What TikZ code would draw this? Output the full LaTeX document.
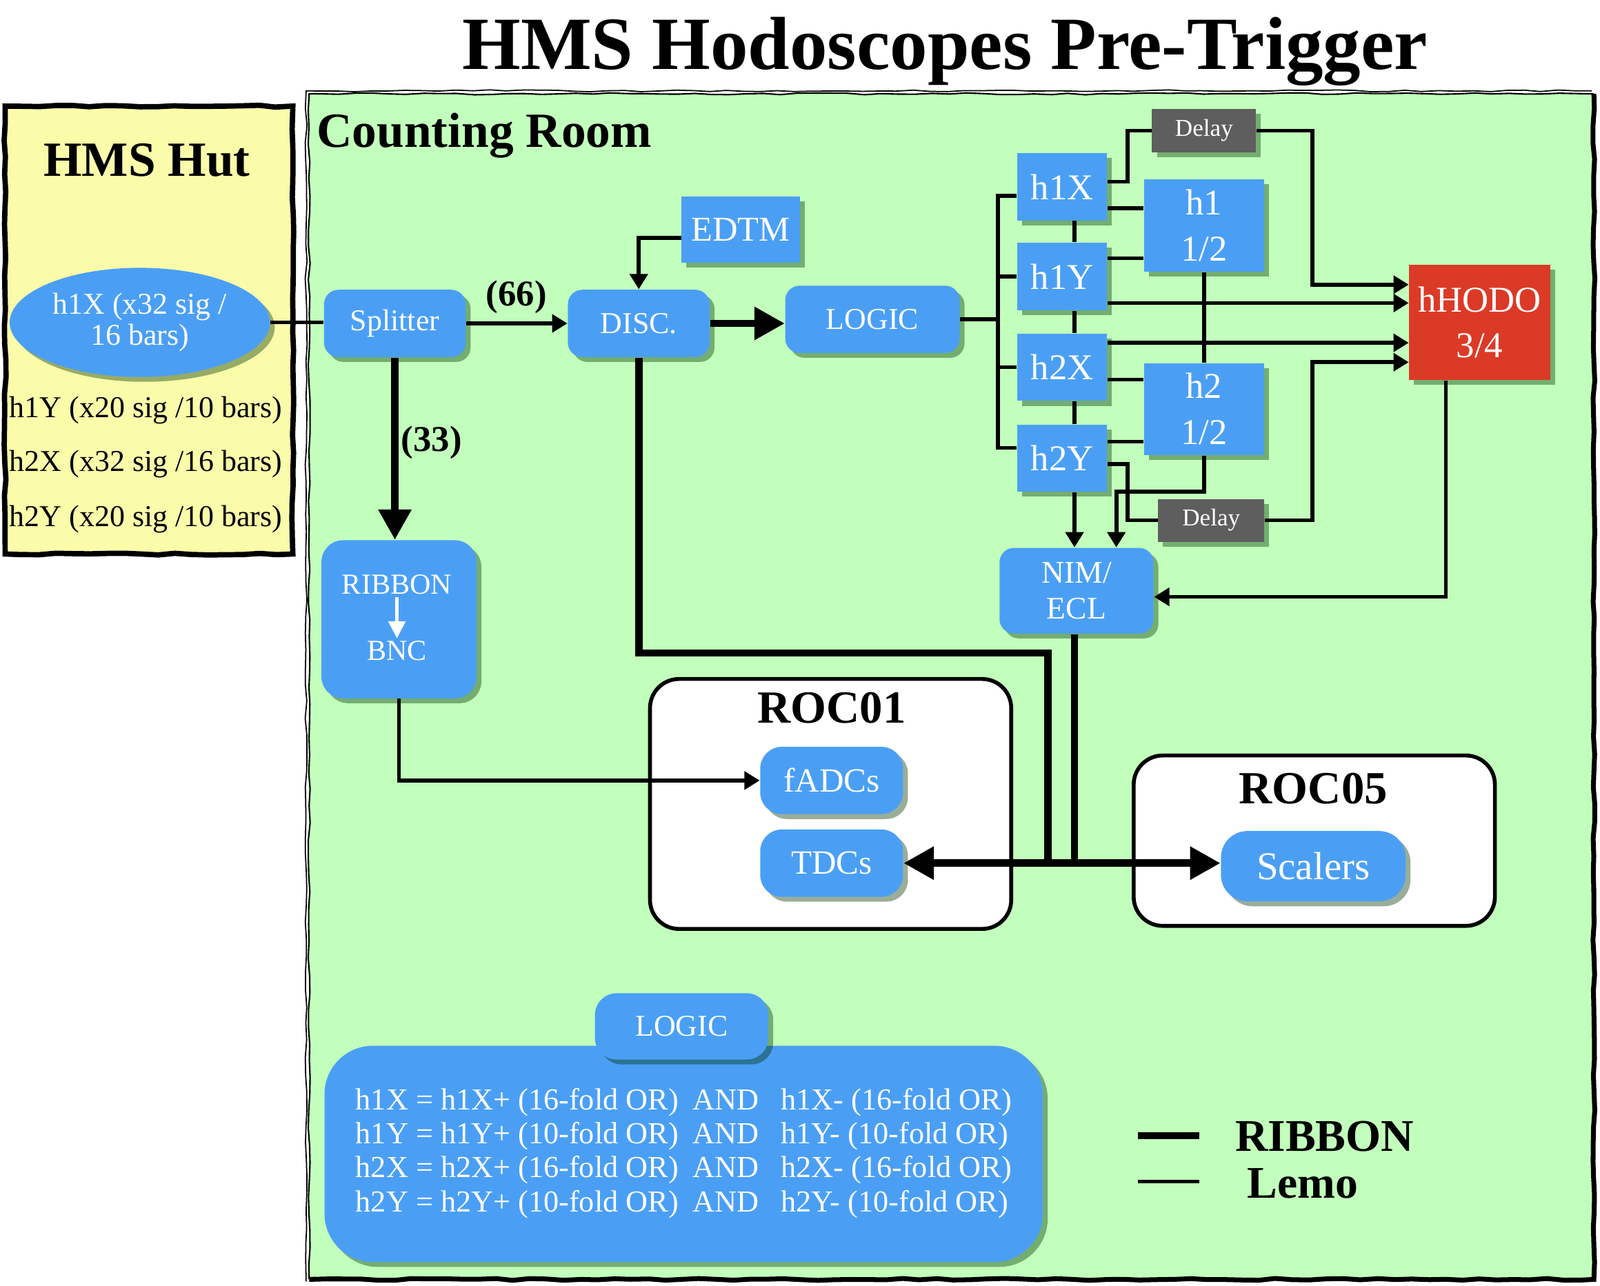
\documentclass[tikz,border=0pt]{standalone}
\usepackage{fontspec}
\setmainfont{Liberation Serif}
\usetikzlibrary{arrows.meta, shapes.geometric, shadows, decorations.pathmorphing}

\newcommand\pxu{0.148mm}
\definecolor{hutyellow}{RGB}{250,252,170}
\definecolor{roomgreen}{RGB}{194,255,188}
\definecolor{boxblue}{RGB}{74,159,245}
\definecolor{hodored}{RGB}{219,58,38}
\definecolor{delaygray}{RGB}{94,94,94}

\tikzset{
  sz/.style 2 args={minimum width=#1*\pxu, minimum height=#2*\pxu},
  blk/.style={fill=boxblue, text=white, align=center, inner sep=0pt,
    font=\fontsize{12.5}{14}\selectfont,
    drop shadow={opacity=0.4, fill=black!80!green, shadow xshift=2pt, shadow yshift=-2pt}},
  rbox/.style={blk, rounded corners=6pt},
  sbox/.style={blk},
  hbox/.style={sbox, font=\fontsize{15}{17}\selectfont},
  dly/.style={sbox, fill=delaygray, font=\fontsize{10}{12}\selectfont},
  lemo/.style={line width=1.6pt},
  ribbon/.style={line width=3pt},
  bigtip/.style={-{Triangle[length=12.5pt,width=13pt]}},
  roc/.style={draw=black, fill=white, line width=1.6pt, rounded corners=12pt},
  sketch/.style={decorate, decoration={random steps, segment length=7pt, amplitude=0.4pt}},
  hutline/.style={font=\fontsize{12.5}{14}\selectfont},
  lbl/.style={font=\bfseries\fontsize{15}{17}\selectfont},
}

\begin{document}
\begin{tikzpicture}[x=0.148mm, y=-0.148mm, >={Triangle[length=6.3pt,width=7.3pt]}]
		\useasboundingbox (0,0) rectangle (1568,1260);

		% HMS Hut und Counting Room
		\fill[hutyellow] (5,104) rectangle (287,543);
		\draw[line width=2.2pt, sketch] (5,104) rectangle (287,543);
		\fill[roomgreen] (303,92) rectangle (1562,1254);
		\draw[line width=0.6pt, sketch] (1562,92) -- (303,92) -- (303,1254);
		\draw[line width=0.5pt, sketch] (1560,89) -- (300,89) -- (300,1256);
		\draw[line width=2pt, sketch] (303,1254) -- (1562,1254) -- (1562,92);

		\node[font=\bfseries\fontsize{31}{36}\selectfont, anchor=base] (title) at (926,68) {HMS Hodoscopes Pre-Trigger};
		\node[font=\bfseries\fontsize{20.3}{24}\selectfont, anchor=base] (hut) at (144,173) {HMS Hut};
		\node[font=\bfseries\fontsize{20.3}{24}\selectfont, anchor=base west, inner sep=0pt] (room) at (310,144) {Counting Room};

		% Signale in der Huette
		\node[blk, ellipse, sz={255}{107}, font=\fontsize{12.5}{13}\selectfont] (src) at (137,316) {h1X (x32 sig /\\16 bars)};
		\node[hutline] (s1Y) at (143,402) {h1Y (x20 sig /10 bars)};
		\node[hutline] (s2X) at (143,455) {h2X (x32 sig /16 bars)};
		\node[hutline] (s2Y) at (143,509) {h2Y (x20 sig /10 bars)};

		% Module
		\node[rbox, sz={139}{66}] (split) at (387,317) {Splitter};
		\node[rbox, sz={139}{66}] (disc) at (626,317) {DISC.};
		\node[sbox, sz={116}{65}, font=\fontsize{14.4}{16}\selectfont] (edtm) at (726,225) {EDTM};
		\node[rbox, sz={171}{66}] (logic) at (855,313) {LOGIC};

		\node[hbox, sz={88}{66}] (h1X) at (1041,183) {h1X};
		\node[hbox, sz={88}{66}] (h1Y) at (1041,271) {h1Y};
		\node[hbox, sz={88}{66}] (h2X) at (1041,360) {h2X};
		\node[hbox, sz={88}{66}] (h2Y) at (1041,449) {h2Y};
		\node[hbox, sz={118}{91}, font=\fontsize{15}{19}\selectfont] (h1half) at (1180,221) {h1\\1/2};
		\node[hbox, sz={118}{90}, font=\fontsize{15}{19}\selectfont] (h2half) at (1180,401) {h2\\1/2};
		\node[dly, sz={102}{43}] (dly1) at (1180,128) {Delay};
		\node[dly, sz={104}{42}] (dly2) at (1187,510) {Delay};
		\node[hbox, fill=hodored, sz={138}{113}, font=\fontsize{15}{19}\selectfont] (hodo) at (1450,316) {hHODO\\3/4};
		\node[rbox, sz={151}{84}, font=\fontsize{13}{15}\selectfont] (nim) at (1055,579) {NIM/\\ECL};

		\node[rbox, sz={152}{155}, rounded corners=9pt] (rib) at (391,607) {};
		\node[text=white, inner sep=1pt, font=\fontsize{12}{14}\selectfont] (ribT) at (389,573) {RIBBON};
		\node[text=white, inner sep=1pt, font=\fontsize{12}{14}\selectfont] (ribB) at (389,638) {BNC};

		% ROCs
		\node[roc, sz={354}{245}] (roc01) at (814,788) {};
		\node[font=\bfseries\fontsize{19}{22}\selectfont] (roc01t) at (815,694) {ROC01};
		\node[rbox, sz={140}{66}, rounded corners=9pt, font=\fontsize{14}{16}\selectfont] (fadc) at (815,765) {fADCs};
		\node[rbox, sz={140}{66}, rounded corners=9pt, font=\fontsize{14}{16}\selectfont] (tdc) at (815,846) {TDCs};
		\node[roc, sz={354}{167}] (roc05) at (1288,824) {};
		\node[font=\bfseries\fontsize{19}{22}\selectfont] (roc05t) at (1287,773) {ROC05};
		\node[rbox, sz={181}{69}, rounded corners=11pt, font=\fontsize{16.2}{18}\selectfont] (scal) at (1287,849) {Scalers};

		% Logik-Tabelle
		\node[blk, rounded corners=20pt, sz={704}{212}, font=\fontsize{12.6}{14}\selectfont] (lgc) at (670,1131)
			{\begin{tabular}{@{}l@{\hspace{6pt}}l@{\hspace{9pt}}l@{}}
			h1X = h1X+ (16-fold OR) & AND & h1X- (16-fold OR)\\
			h1Y = h1Y+ (10-fold OR) & AND & h1Y- (10-fold OR)\\
			h2X = h2X+ (16-fold OR) & AND & h2X- (16-fold OR)\\
			h2Y = h2Y+ (10-fold OR) & AND & h2Y- (10-fold OR)
			\end{tabular}};
		\node[rbox, rounded corners=9pt, sz={170}{65}] (lgctab) at (668,1006) {LOGIC};

		% Verbindungen: Lemo
		\draw[lemo] (src.east) -- (src.east -| split.west);
		\draw[lemo,->] (split.east) -- (disc.west);
		\node[lbl] (n66) at (506,291) {(66)};
		\draw[lemo,->] (edtm.west |- 0,233) -| (disc.north);

		\coordinate (busT) at (978,192);
		\coordinate (busB) at (978,439);
		\draw[lemo] (h1X.west |- busT) -- (busT) -- (busB) -- (h2Y.west |- busB);
		\draw[lemo] (logic.east) -- (logic.east -| busT);
		\draw[lemo] (h1Y.west) -- (h1Y.west -| busT);
		\draw[lemo] (h2X.west) -- (h2X.west -| busT);

		\coordinate (chain) at (1053,0);
		\draw[lemo] (h1X.south -| chain) -- (h1Y.north -| chain);
		\draw[lemo] (h1Y.south -| chain) -- (h2X.north -| chain);
		\draw[lemo] (h2X.south -| chain) -- (h2Y.north -| chain);
		\draw[lemo,->] (h2Y.south -| chain) -- (nim.north -| chain);

		\draw[lemo] (h1X.east |- 0,204) -- (h1half.west |- 0,204);
		\draw[lemo] (h1Y.east |- 0,253) -- (h1half.west |- 0,253);
		\draw[lemo] (h2X.east |- 0,372) -- (h2half.west |- 0,372);
		\draw[lemo] (h2Y.east |- 0,433) -- (h2half.west |- 0,433);
		\draw[lemo] (h1half.south) -- (h2half.north);

		\draw[lemo] (h1X.east |- 0,178) -- (1105,178) |- (dly1.west);
		\draw[lemo,->] (dly1.east) -| (1286,279) -- (hodo.west |- 0,279);
		\draw[lemo,->] (h1Y.east |- 0,297) -- (hodo.west |- 0,297);
		\draw[lemo,->] (h2X.east |- 0,336) -- (hodo.west |- 0,336);
		\draw[lemo] (h2Y.east |- 0,455) -- (1105,455) |- (dly2.west);
		\draw[lemo,->] (dly2.east) -| (1286,355) -- (hodo.west |- 0,355);
		\draw[lemo,->] (h2half.south) -- (1180,482) -- (1094,482) -- (nim.north -| 1094,0);
		\draw[lemo,->] (hodo.south -| 1417,0) |- (nim.east |- 0,585);

		\draw[lemo,->] (rib.south) |- (fadc.west);
		\draw[line width=1.2pt, white, -{Triangle[length=7pt,width=7pt]}] (ribT.south) -- (ribB.north);

		% Verbindungen: Ribbon
		\draw[ribbon, bigtip] (disc.east) -- (disc.east -| logic.west);
		\draw[ribbon, bigtip] (split.south) -- (split.south |- rib.north);
		\node[lbl] (n33) at (423,434) {(33)};
		\coordinate (jd) at (1027,846);
		\coordinate (jn) at (1053,846);
		\draw[ribbon] (disc.south) |- (1027,640) -- (jd);
		\draw[ribbon] (nim.south -| jn) -- (jn);
		\draw[ribbon, {Triangle[length=12.5pt,width=13pt]}-{Triangle[length=12.5pt,width=13pt]}] (tdc.east) -- (tdc.east -| scal.west);

		% Legende
		\coordinate (legA) at (1115,1113);
		\coordinate (legB) at (1175,1113);
		\coordinate (legC) at (1115,1158);
		\coordinate (legD) at (1175,1158);
		\draw[ribbon] (legA) -- (legB);
		\draw[lemo] (legC) -- (legD);
		\node[font=\bfseries\fontsize{18.7}{22}\selectfont, anchor=west, inner sep=0pt] (legRib) at (1210,1114) {RIBBON};
		\node[font=\bfseries\fontsize{18.7}{22}\selectfont, anchor=west, inner sep=0pt] (legLemo) at (1222,1160) {Lemo};
	\end{tikzpicture}
\end{document}
